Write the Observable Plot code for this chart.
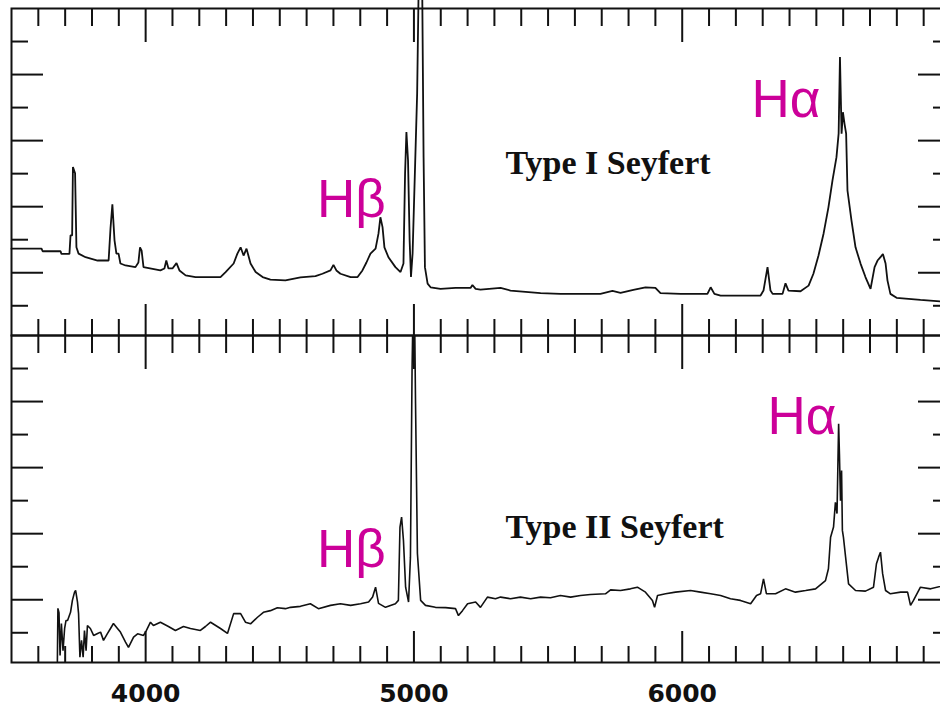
<!DOCTYPE html>
<html>
<head>
<meta charset="utf-8">
<script src="https://cdn.jsdelivr.net/npm/d3@7"></script>
<script src="https://cdn.jsdelivr.net/npm/@observablehq/plot@0.6"></script>
<style>
  html, body { margin: 0; padding: 0; background: #fff; overflow: hidden; }
</style>
</head>
<body>
<div id="chart"></div>
<script>
// ---- Data (wavelength in Å, flux in arbitrary panel units) ----
const panels = ["Type I Seyfert", "Type II Seyfert"];

const wavelengthI = [3500,3612,3616,3683,3686,3716,3720,3726,3729,3737,3742,3750,3776,3821,3862,3869,3876,3884,3891,3899,3906,3925,3962,3973,3979,3985,3992,4055,4070,4077,4085,4100,4115,4126,4149,4186,4279,4298,4328,4342,4354,4365,4376,4391,4410,4436,4465,4521,4577,4633,4659,4689,4700,4711,4726,4764,4790,4808,4823,4838,4857,4868,4875,4883,4890,4905,4931,4950,4961,4967,4972,4978,4984,4989,4995,5012,5019,5030,5036,5041,5051,5062,5099,5155,5211,5218,5230,5248,5323,5360,5472,5546,5695,5725,5740,5770,5818,5863,5900,5919,5994,6094,6106,6120,6143,6292,6303,6318,6329,6337,6374,6385,6396,6441,6471,6489,6508,6527,6545,6560,6575,6583,6588,6594,6599,6605,6611,6616,6631,6646,6665,6683,6702,6717,6728,6739,6748,6758,6765,6776,6799,6888,7000];
const fluxI = [2.73,2.73,2.65,2.65,2.57,2.57,3.13,3.13,5.20,5.01,2.77,2.58,2.47,2.37,2.37,3.34,4.07,2.98,2.58,2.58,2.28,2.22,2.17,2.31,2.77,2.67,2.17,2.07,2.13,2.37,2.13,2.13,2.29,2.07,1.92,1.87,1.87,2.02,2.28,2.58,2.77,2.52,2.73,2.28,2.02,1.87,1.79,1.77,1.86,1.90,1.97,2.07,2.24,2.07,1.97,1.87,1.87,2.07,2.31,2.58,2.73,3.19,3.68,3.38,2.77,2.47,2.17,2.02,2.28,5.01,6.26,5.40,2.98,1.87,2.58,7.43,11.5,11.5,5.49,2.17,1.67,1.56,1.51,1.54,1.54,1.63,1.51,1.49,1.54,1.46,1.38,1.36,1.36,1.42,1.45,1.39,1.48,1.56,1.54,1.38,1.36,1.36,1.56,1.36,1.31,1.31,1.46,2.17,1.46,1.36,1.36,1.68,1.46,1.44,1.61,1.97,2.52,3.19,3.98,4.79,5.50,6.21,8.53,6.21,6.86,6.51,6.21,4.49,3.58,2.77,2.27,1.87,1.51,2.17,2.37,2.47,2.57,2.28,1.77,1.36,1.24,1.18,1.11];

const wavelengthII = [3671,3673,3677,3681,3686,3692,3698,3703,3709,3720,3727,3735,3739,3746,3750,3755,3761,3767,3772,3778,3783,3794,3806,3821,3832,3843,3858,3869,3880,3895,3906,3925,3936,3955,3970,3992,4003,4018,4029,4055,4085,4111,4141,4167,4204,4223,4242,4279,4305,4328,4354,4372,4391,4417,4439,4465,4491,4521,4540,4577,4614,4644,4689,4726,4764,4801,4831,4846,4857,4868,4894,4931,4942,4948,4954,4961,4969,4980,4987,4993,4997,5002,5006,5013,5025,5043,5080,5118,5155,5166,5181,5200,5230,5248,5274,5304,5323,5360,5397,5435,5472,5509,5546,5584,5621,5658,5714,5733,5770,5807,5833,5863,5889,5897,5908,5938,5975,6031,6068,6106,6143,6180,6217,6255,6277,6292,6303,6314,6348,6385,6422,6460,6497,6534,6545,6553,6564,6571,6577,6583,6586,6590,6594,6597,6601,6609,6620,6646,6683,6713,6724,6732,6739,6747,6758,6776,6814,6840,6851,6862,6888,6926,7000];
const fluxII = [0.13,1.74,1.61,0.31,1.28,0.46,1.13,1.37,1.37,1.62,1.98,2.23,2.28,1.93,1.58,0.26,0.77,0.26,1.07,0.46,1.22,1.13,0.92,0.98,1.02,0.77,0.98,1.13,1.28,1.13,1.02,0.72,0.56,0.87,0.97,0.92,1.07,1.32,1.22,1.32,1.19,1.07,1.19,1.13,1.07,1.19,1.32,1.13,0.98,1.58,1.58,1.32,1.27,1.47,1.62,1.67,1.76,1.73,1.77,1.80,1.88,1.73,1.83,1.88,1.83,1.88,1.93,2.08,2.38,1.89,1.77,1.88,1.98,4.20,4.50,3.79,2.38,1.93,3.29,8.94,11,11,7.94,3.40,1.98,1.83,1.77,1.76,1.73,1.52,1.67,1.88,1.93,1.77,2.08,2.03,2.08,2.03,2.08,2.03,2.08,2.06,2.13,2.08,2.13,2.16,2.18,2.30,2.28,2.33,2.38,2.23,1.98,1.77,2.13,2.18,2.23,2.28,2.23,2.18,2.13,2.03,1.98,1.88,2.13,2.18,2.63,2.18,2.18,2.33,2.23,2.28,2.33,2.58,2.94,3.89,4.20,4.95,4.61,7.33,6.42,5.00,5.91,4.10,3.89,3.29,2.48,2.28,2.26,2.38,3.09,3.29,3.44,2.79,2.28,2.18,2.23,2.23,1.83,1.98,2.38,2.33,2.48];

// Tick values
const xMajorTicks = [4000, 5000, 6000];
const xMinorTicks = d3.range(3600, 7000, 100).filter(d => d % 1000 !== 0);
const yLongTicks = [2, 4, 6, 8];
const yShortTicks = [1, 3, 5, 7, 9];

// Annotations (anchored in data coordinates: wavelength, flux)
const panelLabels = [
  {panel: panels[0], text: "Type I Seyfert", wavelength: 5341, flux: 5.00},
  {panel: panels[1], text: "Type II Seyfert", wavelength: 5341, flux: 3.88}
];
const lineLabels = [
  {panel: panels[0], text: "Hβ", wavelength: 4639, flux: 3.70},
  {panel: panels[0], text: "Hα", wavelength: 6258, flux: 6.73},
  {panel: panels[1], text: "Hβ", wavelength: 4639, flux: 2.99},
  {panel: panels[1], text: "Hα", wavelength: 6318, flux: 7.03}
];

// ---- Build tables ----
const rowsI = wavelengthI.map((w, i) => ({panel: panels[0], wavelength: w, flux: fluxI[i]}));
const rowsII = wavelengthII.map((w, i) => ({panel: panels[1], wavelength: w, flux: fluxII[i]}));

const W = 940, H = 710;
const mTop = 8, mBottom = 48, mLeft = 11, mRight = -10;
const facetH = (H - mTop - mBottom) / 2;
const frameW = W - mLeft - mRight;
const ink = "#111";

const chart = Plot.plot({
  width: W,
  height: H,
  marginTop: mTop,
  marginBottom: mBottom,
  marginLeft: mLeft,
  marginRight: mRight,
  x: {domain: [3500, 7000], axis: null},
  y: {domain: [0.1, 10], axis: null},
  fy: {domain: panels, axis: null, padding: 0},
  style: {background: "white"},
  marks: [
    // x ticks along the top of each panel
    Plot.tickX(xMinorTicks, {x: d => d, insetBottom: facetH - 18, stroke: ink, strokeWidth: 2}),
    Plot.tickX(xMajorTicks, {x: d => d, insetBottom: facetH - 34, stroke: ink, strokeWidth: 2}),
    // x ticks along the bottom of each panel
    Plot.tickX(xMinorTicks, {x: d => d, insetTop: facetH - 16, stroke: ink, strokeWidth: 2}),
    Plot.tickX(xMajorTicks, {x: d => d, insetTop: facetH - 31, stroke: ink, strokeWidth: 2}),
    // y ticks left
    Plot.tickY(yShortTicks, {y: d => d, insetRight: frameW - 17, stroke: ink, strokeWidth: 2}),
    Plot.tickY(yLongTicks, {y: d => d, insetRight: frameW - 32, stroke: ink, strokeWidth: 2}),
    // y ticks right
    Plot.tickY(yShortTicks, {y: d => d, insetLeft: frameW - 17, stroke: ink, strokeWidth: 2}),
    Plot.tickY(yLongTicks, {y: d => d, insetLeft: frameW - 32, stroke: ink, strokeWidth: 2}),
    // spectra
    Plot.line(rowsI, {x: "wavelength", y: "flux", fy: "panel", stroke: ink, strokeWidth: 1.8, strokeLinejoin: "miter"}),
    Plot.line(rowsII, {x: "wavelength", y: "flux", fy: "panel", stroke: ink, strokeWidth: 1.6, strokeLinejoin: "miter", clip: "frame"}),
    Plot.frame({stroke: ink, strokeWidth: 2}),
    // annotations
    Plot.text(panelLabels, {
      x: "wavelength", y: "flux", fy: "panel", text: "text",
      textAnchor: "start", lineAnchor: "bottom",
      fontFamily: "Liberation Serif", fontWeight: "bold", fontSize: 34, fill: ink
    }),
    Plot.text(lineLabels, {
      x: "wavelength", y: "flux", fy: "panel", text: "text",
      textAnchor: "start", lineAnchor: "bottom",
      fontFamily: "Liberation Sans", fontSize: 53, fill: "#cc0099"
    }),
    // x axis labels
    Plot.axisX(xMajorTicks, {
      anchor: "bottom", label: null, tickSize: 0, tickPadding: 22, tickFormat: "d",
      fontSize: 25, fontWeight: "bold", fontFamily: "DejaVu Sans", fill: ink
    })
  ]
});

document.getElementById("chart").appendChild(chart);
</script>
</body>
</html>
